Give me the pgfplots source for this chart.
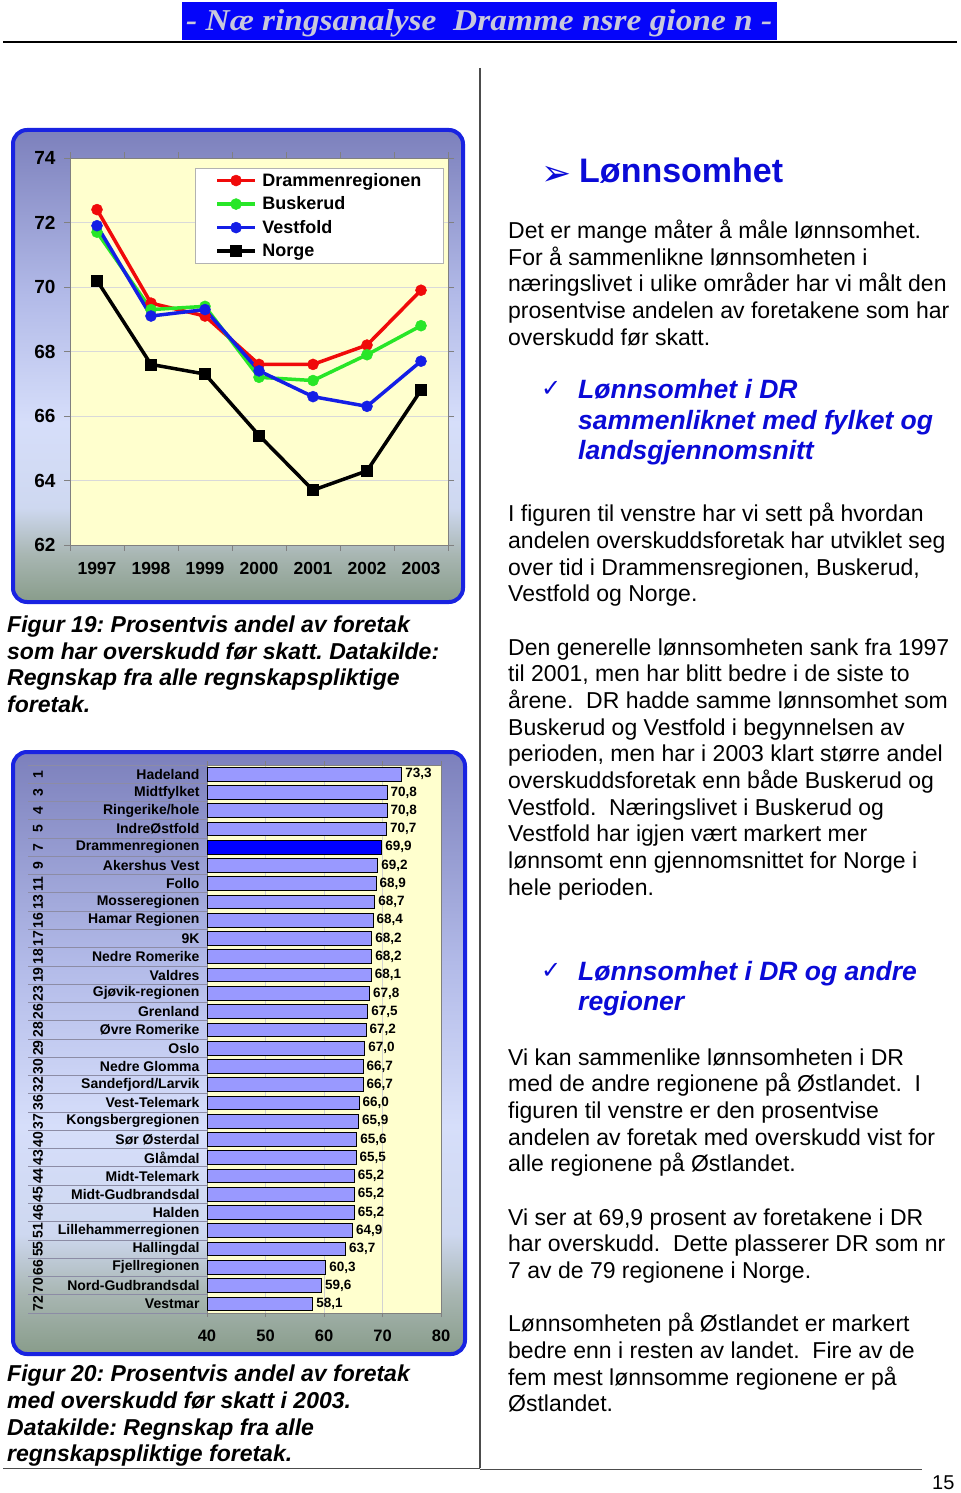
\documentclass[border=0pt]{standalone}
\usepackage{fontspec}
\setmainfont{Liberation Sans}
\newfontfamily\djv{DejaVu Sans}
\newfontfamily\lserif{Liberation Serif}
\usepackage{graphicx}
\usepackage{pgfplots}
\pgfplotsset{compat=1.18}
\frenchspacing
\definecolor{hdrblue}{RGB}{5,5,250}
\definecolor{hdrtext}{RGB}{200,200,220}
\definecolor{headblue}{RGB}{10,10,215}
\definecolor{boxborder}{RGB}{25,35,225}
\definecolor{plotyellow}{RGB}{255,255,206}
\definecolor{sb1}{RGB}{124,128,188}
\definecolor{sb2}{RGB}{178,186,232}
\definecolor{sb3}{RGB}{214,222,250}
\definecolor{sb4}{RGB}{206,216,240}
\definecolor{sb5}{RGB}{168,182,178}
\definecolor{sb6}{RGB}{136,156,138}
\definecolor{cred}{RGB}{240,10,10}
\definecolor{cgreen}{RGB}{40,230,40}
\definecolor{cblue}{RGB}{20,30,230}
\definecolor{barfill}{RGB}{153,153,255}
\definecolor{drbar}{RGB}{0,0,255}
\definecolor{sepgray}{RGB}{140,140,165}
\pgfdeclareverticalshading{boxshade}{100bp}{color(0bp)=(sb6); color(25bp)=(sb6); color(30bp)=(sb5); color(35bp)=(sb4); color(44bp)=(sb3); color(57.5bp)=(sb2); color(75bp)=(sb1); color(100bp)=(sb1)}
\newcommand\fsz[1]{\fontsize{#1bp}{#1bp}\selectfont}
\begin{document}
\begin{tikzpicture}[x=1bp,y=-1bp,
  body/.style={anchor=base west, inner sep=0pt, font=\fsz{23}},
  figcap/.style={anchor=base west, inner sep=0pt, font=\fsz{23}\bfseries\itshape},
  hd/.style={anchor=base west, inner sep=0pt, font=\fsz{26.5}\bfseries\itshape, text=headblue},
  chk/.style={anchor=base west, inner sep=0pt, font=\djv\fsz{24}, text=headblue}]
\useasboundingbox (0,0) rectangle (960,1493);
% header
\fill[hdrblue] (182,2) rectangle (777,40);
\node[anchor=base west, inner sep=0pt, text=hdrtext] at (186,31) {\resizebox{586bp}{21bp}{\lserif\bfseries\itshape - Næ ringsanalyse\ \ Dramme nsre gione n -}};
\draw[line width=1.5bp] (3,42) -- (957,42);
\draw[line width=1.2bp, black!70] (480,68) -- (480,1468.3);
\draw[line width=1.2bp, black!70] (3,1468.3) -- (480,1468.3);
\draw[line width=1.2bp, black!70] (480,1469.3) -- (922,1469.3);
\node[anchor=base west, inner sep=0pt, font=\fsz{20}] at (932,1489) {15};

% ---------- line chart ----------
\shade[shading=boxshade, rounded corners=14bp] (13,130) rectangle (463,602);
\draw[boxborder, line width=4bp, rounded corners=14bp] (13,130) rectangle (463,602);
\begin{axis}[
  at={(70bp,-545bp)}, anchor=south west, width=378bp, height=387bp, scale only axis,
  /pgf/number format/assume math mode=true,
  xmin=0.5, xmax=7.5, ymin=62, ymax=74,
  axis background/.style={fill=plotyellow},
  axis line style={gray, line width=0.8bp},
  xtick={0.5,1.5,2.5,3.5,4.5,5.5,6.5,7.5}, xticklabels={},
  extra x ticks={1,2,3,4,5,6,7},
  extra x tick labels={1997,1998,1999,2000,2001,2002,2003},
  extra x tick style={major tick length=0pt, tick style={draw=none}, xticklabel style={yshift=-14bp}},
  ytick={62,64,...,74},
  tick align=outside, major tick length=6bp,
  tick style={gray, line width=0.8bp},
  ymajorgrids, grid style={gray!30, line width=0.5bp},
  yticklabel style={font=\fsz{19}\bfseries, xshift=-5bp},
  xticklabel style={font=\fsz{17.5}\bfseries},
  legend style={at={(0.331,0.974)}, anchor=north west, draw=gray!60, fill=white,
    font=\fsz{18}\bfseries, inner xsep=20bp, inner ysep=3.5bp, row sep=6bp,
    nodes={inner sep=1.5bp}, /tikz/every odd column/.append style={column sep=4bp}},
  legend cell align=left,
  legend image code/.code={\draw[mark repeat=2,mark phase=2] plot coordinates {(0bp,0bp) (19bp,0bp) (38bp,0bp)};},
]
\addplot[cred, line width=3.5bp, mark=*, mark size=5.5bp, mark options={solid, fill=cred, line width=0.5bp}]
  coordinates {(1,72.4) (2,69.5) (3,69.1) (4,67.6) (5,67.6) (6,68.2) (7,69.9)};
\addlegendentry{Drammenregionen}
\addplot[cgreen, line width=3.5bp, mark=*, mark size=5.5bp, mark options={solid, fill=cgreen, line width=0.5bp}]
  coordinates {(1,71.7) (2,69.3) (3,69.4) (4,67.2) (5,67.1) (6,67.9) (7,68.8)};
\addlegendentry{Buskerud}
\addplot[cblue, line width=3.5bp, mark=*, mark size=5.5bp, mark options={solid, fill=cblue, line width=0.5bp}]
  coordinates {(1,71.9) (2,69.1) (3,69.3) (4,67.4) (5,66.6) (6,66.3) (7,67.7)};
\addlegendentry{Vestfold}
\addplot[black, line width=3.5bp, mark=square*, mark size=5.5bp, mark options={solid, fill=black, line width=0.5bp}]
  coordinates {(1,70.2) (2,67.6) (3,67.3) (4,65.4) (5,63.7) (6,64.3) (7,66.8)};
\addlegendentry{Norge}
\end{axis}

\node[figcap] at (7,632.5) {Figur 19: Prosentvis andel av foretak};
\node[figcap] at (7,659.2) {som har overskudd før skatt. Datakilde:};
\node[figcap] at (7,685.8) {Regnskap fra alle regnskapspliktige};
\node[figcap] at (7,712.5) {foretak.};

% ---------- bar chart ----------
\shade[shading=boxshade, rounded corners=14bp] (13,752) rectangle (465,1354);
\draw[boxborder, line width=4bp, rounded corners=14bp] (13,752) rectangle (465,1354);
\foreach \k in {0,...,30} \draw[sepgray, line width=0.8bp] (28,{765+\k*18.2667}) -- (207,{765+\k*18.2667});
\begin{axis}[
  at={(207bp,-1313bp)}, anchor=south west, width=234bp, height=548bp, scale only axis,
  /pgf/number format/assume math mode=true,
  xbar, bar width=0.75, xmin=40, xmax=80, ymin=0.5, ymax=30.5, y dir=reverse,
  axis background/.style={fill=plotyellow},
  axis line style={gray, line width=0.8bp},
  xtick={40,50,...,80}, tick align=outside, major tick length=4bp,
  tick style={gray, line width=0.8bp},
  xmajorgrids, grid style={gray!35, line width=0.5bp},
  xticklabel style={font=\fsz{16.5}\bfseries, yshift=-9bp},
  ytick={1,...,30},
  yticklabels={Hadeland,Midtfylket,Ringerike/hole,IndreØstfold,Drammenregionen,Akershus Vest,Follo,Mosseregionen,Hamar Regionen,9K,Nedre Romerike,Valdres,Gjøvik-regionen,Grenland,Øvre Romerike,Oslo,Nedre Glomma,Sandefjord/Larvik,Vest-Telemark,Kongsbergregionen,Sør Østerdal,Glåmdal,Midt-Telemark,Midt-Gudbrandsdal,Halden,Lillehammerregionen,Hallingdal,Fjellregionen,Nord-Gudbrandsdal,Vestmar},
  ytick style={draw=none},
  yticklabel style={font=\fsz{14}\bfseries},
  extra y ticks={1,...,30},
  extra y tick labels={1,3,4,5,7,9,11,13,16,17,18,19,23,26,28,29,30,32,36,37,40,43,44,45,46,51,55,66,70,72},
  extra y tick style={yticklabel style={xshift=-165bp, rotate=90, anchor=center}},
  point meta=x,
  nodes near coords={\pgfmathprintnumber[fixed,fixed zerofill,precision=1,use comma,assume math mode=true]{\pgfplotspointmeta}},
  nodes near coords style={font=\fsz{13.5}\bfseries, anchor=west, inner sep=3bp},
]
\addplot[fill=barfill, draw=black, line width=1bp, bar shift=0pt] coordinates {
(73.3,1) (70.8,2) (70.8,3) (70.7,4) (69.2,6) (68.9,7) (68.7,8) (68.4,9) (68.2,10)
(68.2,11) (68.1,12) (67.8,13) (67.5,14) (67.2,15) (67.0,16) (66.7,17) (66.7,18) (66.0,19)
(65.9,20) (65.6,21) (65.5,22) (65.2,23) (65.2,24) (65.2,25) (64.9,26) (63.7,27) (60.3,28)
(59.6,29) (58.1,30)};
\addplot[fill=drbar, draw=black, line width=1bp, bar shift=0pt] coordinates {(69.9,5)};
\end{axis}

\node[figcap] at (7,1381.7) {Figur 20: Prosentvis andel av foretak};
\node[figcap] at (7,1408.3) {med overskudd før skatt i 2003.};
\node[figcap] at (7,1435) {Datakilde: Regnskap fra alle};
\node[figcap] at (7,1461.7) {regnskapspliktige foretak.};

% ---------- right column ----------
\node[anchor=base west, inner sep=0pt, text=headblue, font=\djv\fsz{36}] at (541,186) {➢};
\node[anchor=base west, inner sep=0pt, text=headblue, font=\fsz{34}\bfseries] at (579,182.3) {Lønnsomhet};

\node[body] at (508,238.3) {Det er mange måter å måle lønnsomhet.};
\node[body] at (508,265) {For å sammenlikne lønnsomheten i};
\node[body] at (508,291.7) {næringslivet i ulike områder har vi målt den};
\node[body] at (508,318.3) {prosentvise andelen av foretakene som har};
\node[body] at (508,345) {overskudd før skatt.};

\node[chk] at (541,396) {✓};
\node[hd] at (578,398.3) {Lønnsomhet i DR};
\node[hd] at (578,429) {sammenliknet med fylket og};
\node[hd] at (578,459.7) {landsgjennomsnitt};

\node[body] at (508,521.7) {I figuren til venstre har vi sett på hvordan};
\node[body] at (508,548.3) {andelen overskuddsforetak har utviklet seg};
\node[body] at (508,575) {over tid i Drammensregionen, Buskerud,};
\node[body] at (508,601.7) {Vestfold og Norge.};

\node[body] at (508,655) {Den generelle lønnsomheten sank fra 1997};
\node[body] at (508,681.7) {til 2001, men har blitt bedre i de siste to};
\node[body] at (508,708.3) {årene.\ \ DR hadde samme lønnsomhet som};
\node[body] at (508,735) {Buskerud og Vestfold i begynnelsen av};
\node[body] at (508,761.7) {perioden, men har i 2003 klart større andel};
\node[body] at (508,788.3) {overskuddsforetak enn både Buskerud og};
\node[body] at (508,815) {Vestfold.\ \ Næringslivet i Buskerud og};
\node[body] at (508,841.7) {Vestfold har igjen vært markert mer};
\node[body] at (508,868.3) {lønnsomt enn gjennomsnittet for Norge i};
\node[body] at (508,895) {hele perioden.};

\node[chk] at (541,978) {✓};
\node[hd] at (578,980) {Lønnsomhet i DR og andre};
\node[hd] at (578,1010.7) {regioner};

\node[body] at (508,1065) {Vi kan sammenlike lønnsomheten i DR};
\node[body] at (508,1091.7) {med de andre regionene på Østlandet.\ \ I};
\node[body] at (508,1118.3) {figuren til venstre er den prosentvise};
\node[body] at (508,1145) {andelen av foretak med overskudd vist for};
\node[body] at (508,1171.7) {alle regionene på Østlandet.};

\node[body] at (508,1225) {Vi ser at 69,9 prosent av foretakene i DR};
\node[body] at (508,1251.7) {har overskudd.\ \ Dette plasserer DR som nr};
\node[body] at (508,1278.3) {7 av de 79 regionene i Norge.};

\node[body] at (508,1331.7) {Lønnsomheten på Østlandet er markert};
\node[body] at (508,1358.3) {bedre enn i resten av landet.\ \ Fire av de};
\node[body] at (508,1385) {fem mest lønnsomme regionene er på};
\node[body] at (508,1411.7) {Østlandet.};
\end{tikzpicture}
\end{document}
